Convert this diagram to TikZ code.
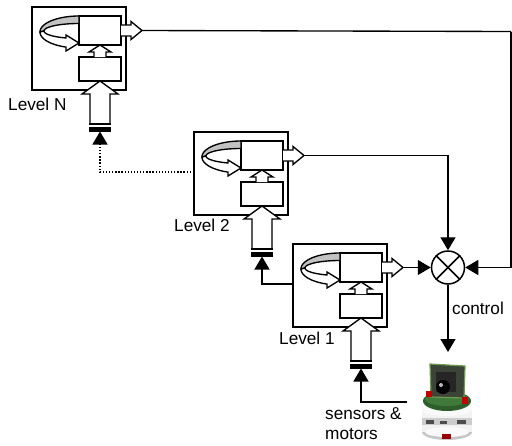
\documentclass[tikz,border=0pt]{standalone}
\usepackage{fontspec}
\setmainfont{Liberation Sans}
\usetikzlibrary{arrows.meta,calc}
\definecolor{ribbon}{gray}{0.76}
\definecolor{pcb}{HTML}{3B4436}
\definecolor{pcbedge}{HTML}{6E9A4E}
\definecolor{disc}{HTML}{2E5E2C}
\definecolor{disctop}{HTML}{3F7A3A}
\tikzset{
  box/.style={line width=1.35pt, line join=miter},
  conn/.style={line width=1.35pt, -{Triangle[length=13pt,width=15pt]}},
  lbl/.style={anchor=west, inner sep=0pt, font=\fontsize{17.2}{20}\selectfont},
}
\newcommand\levelblock[2]{%
\begin{scope}[shift={#2}]
  \draw[box] (0,0) rectangle (94,83);
  \draw[box,fill=white] (47,9) rectangle (89,38);
  \draw[box,fill=white] (47,50) rectangle (89,74);
  % small internal arrow
  \draw[box,fill=white] (62,50) -- (62,45) -- (57,45) -- (68,38) -- (79,45) -- (74,45) -- (74,50);
  % big input arrow
  \draw[box,fill=white] (58,116) -- (58,87) -- (50,87) -- (68,74) -- (86,87) -- (78,87) -- (78,116);
  \fill (57,116) rectangle (79,124.5);
  \fill[white] (57,118.3) rectangle (79,119.8);
  % output arrow
  \draw[box,fill=white] (89,18) -- (99,18) -- (99,14.5) -- (110,23.5) -- (99,32.5) -- (99,29) -- (89,29);
  % loop: back crescent
  \draw[box,fill=ribbon] plot[domain=270:180,samples=40] ({47+39*cos(\x)},{25+16*sin(\x)})
     -- plot[domain=180:270,samples=40] ({47+35*cos(\x)},{24+7.5*sin(\x)}) -- cycle;
  % loop: front ribbon with hollow head
  \draw[box,fill=white] plot[domain=180:109.47,samples=40] ({47+39*cos(\x)},{25+16*sin(\x)})
     -- (34,44) -- (47,36) -- (34,28)
     -- plot[domain=111.8:180,samples=40] ({47+35*cos(\x)},{24+7.5*sin(\x)}) -- cycle;
  \coordinate (#1-out) at (110,23.5);
  \coordinate (#1-in) at (68,124.5);
  \coordinate (#1-left) at (0,40);
\end{scope}}
\begin{document}
\begin{tikzpicture}[x=1pt,y=-1pt]
\useasboundingbox (0,0) rectangle (512,445);
\fill[white] (0,0) rectangle (512,445);

\levelblock{LN}{(32,7)}
\levelblock{L2}{(194,132)}
\levelblock{L1}{(293,244)}

\node[lbl] (tN) at (8,104) {Level N};
\node[lbl] (t2) at (174,225) {Level 2};
\node[lbl] (t1) at (279,338) {Level 1};
\node[lbl] (tc) at (452,308) {control};
\node[lbl] (ts) at (325,414) {sensors \&};
\node[lbl] (tm) at (325,434) {motors};

\node[circle, draw, line width=1.5pt, minimum size=33pt, inner sep=0pt] (mult) at (448,267.5) {};
\draw[line width=1.5pt] (mult.north west) -- (mult.south east);
\draw[line width=1.5pt] (mult.north east) -- (mult.south west);

\coordinate (rc) at (511,31.5);
\coordinate (robottop) at (448,352);
\coordinate (robotleft) at (407,402);

\draw[line width=1.35pt] (LN-out) -- (rc);
\draw[conn] (rc) |- (mult.east);
\draw[conn] (L2-out) -| (mult.north);
\draw[conn] (L1-out) -- (mult.west);
\draw[conn] (mult.south) -- (robottop);
\draw[conn] (robotleft) -| (L1-in);
\draw[conn] (L1-left) -| (L2-in);
\draw[conn, dash pattern=on 1.3pt off 1.8pt] (L2-left) -| (LN-in);

% robot picture
\begin{scope}
  \fill[gray!45] (447,432) ellipse (25pt and 8pt);
  \fill[gray!10] (422,410) rectangle (472,432);
  \fill[gray!5] (447,432) ellipse (22pt and 5pt);
  \fill[gray!40] (422,418) rectangle (472,425);
  \fill[black!70] (426,419.5) rectangle (434,423.5);
  \fill[black!70] (440,420.5) rectangle (447,424);
  \fill[black!70] (457,420) rectangle (466,423.5);
  \fill[red!60!black] (442,434) rectangle (451,439);
  \fill[gray!5] (447,410) ellipse (25pt and 6pt);
  \fill[disc] (447,401) ellipse (24pt and 10pt);
  \fill[disctop] (447,399) ellipse (22pt and 7pt);
  \filldraw[fill=pcb, draw=pcbedge, line width=1.2pt]
     (430,364) -- (465,366) -- (464,398) -- (431,397) -- cycle;
  \fill[black!85] (436,372) rectangle (456,392);
  \fill[black] (443,387) circle (7pt);
  \fill[gray!55] (441,385) circle (2pt);
  \fill[red!75!black] (426,391) rectangle (432,397);
  \fill[red!75!black] (462,397) rectangle (468,404);
\end{scope}
\end{tikzpicture}
\end{document}
